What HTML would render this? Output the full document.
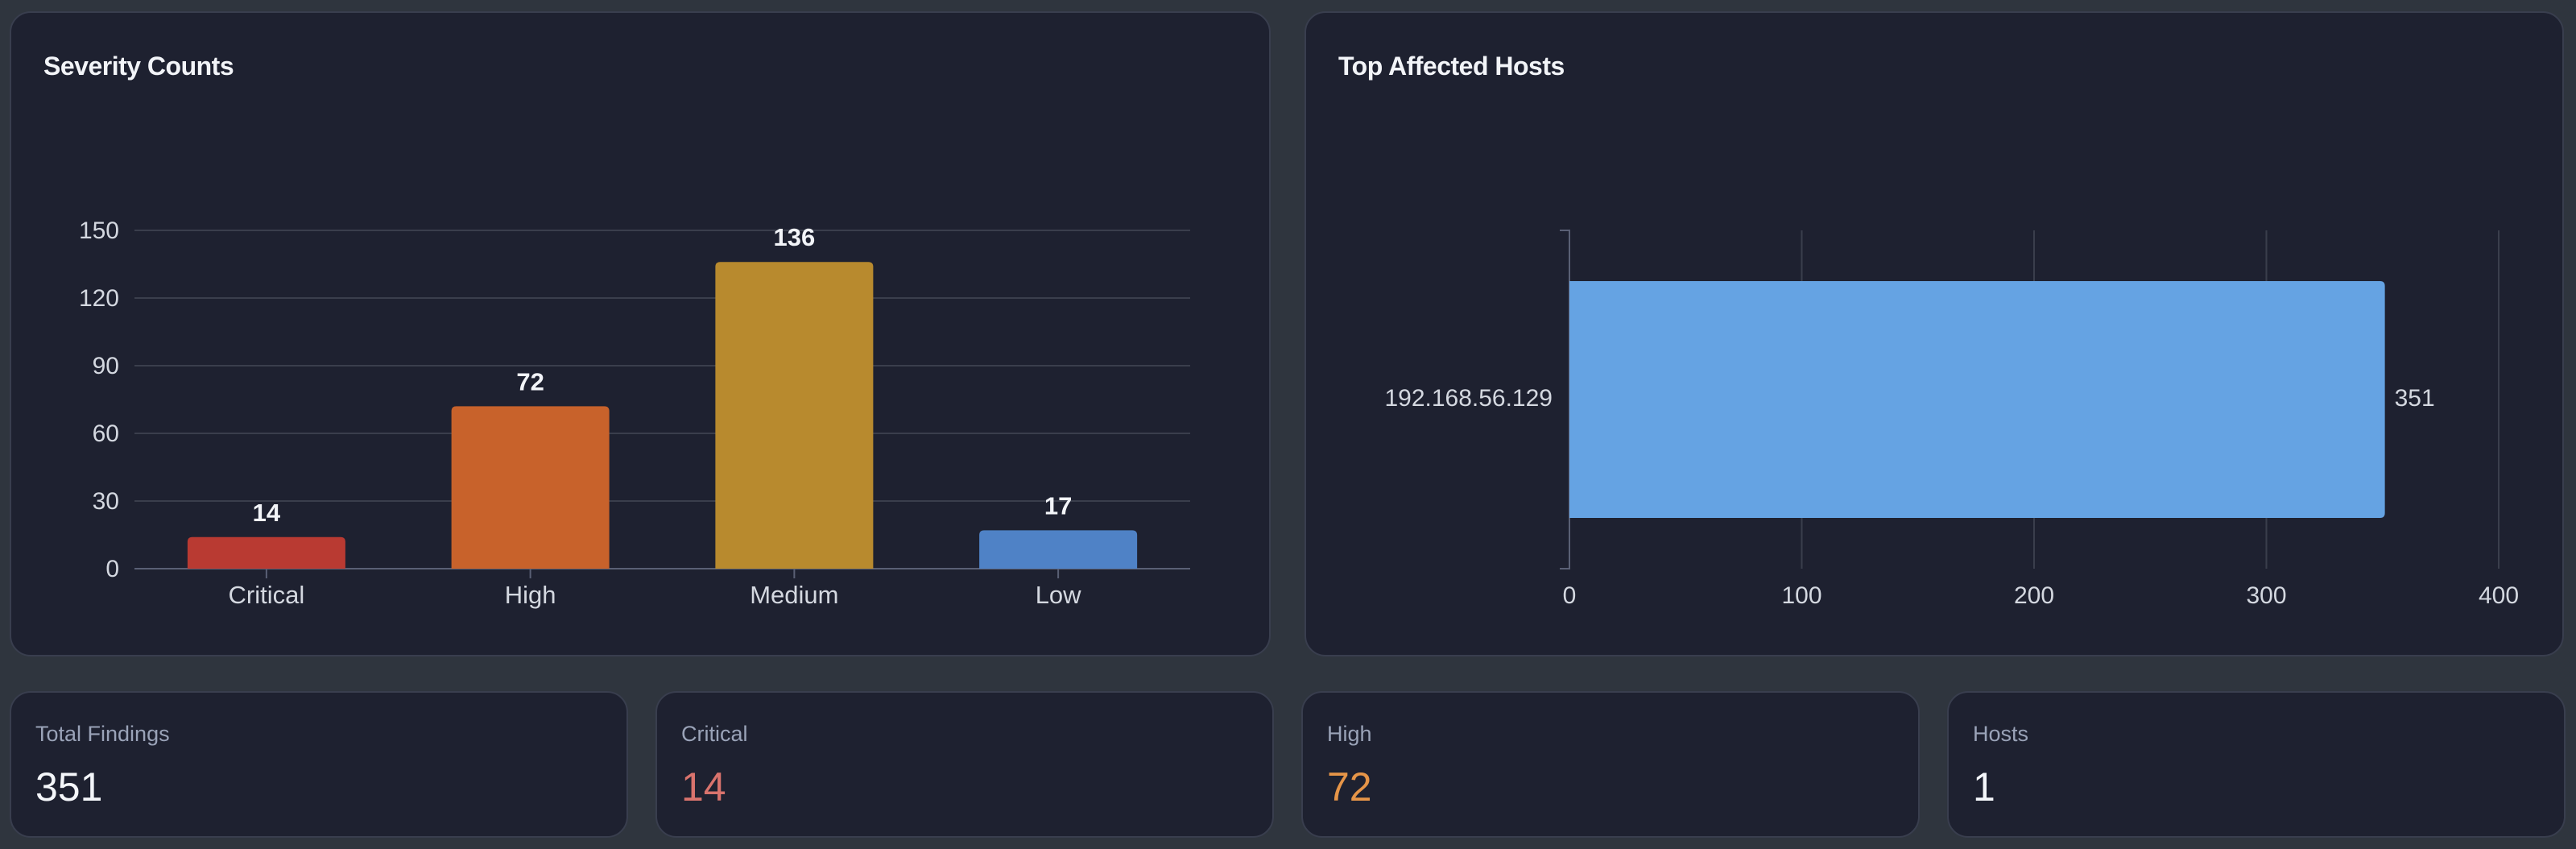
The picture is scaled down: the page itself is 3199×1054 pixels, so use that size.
<!DOCTYPE html>
<html><head><meta charset="utf-8"><style>
body{margin:0;width:3199px;height:1054px;background:#2f353e;font-family:"Liberation Sans",sans-serif;overflow:hidden;position:relative}
.card{position:absolute;background:#1e2130;border:2px solid #393e4e;box-sizing:border-box;border-radius:26px}
.title{position:absolute;left:40px;top:48px;font-size:32px;color:#f2f4f8;font-weight:bold;letter-spacing:-0.5px}
.lbl{position:absolute;left:30px;top:36px;font-size:27px;color:#9aa3b8}
.val{position:absolute;left:30px;top:88px;font-size:50px;color:#f4f6fa}
svg{position:absolute;left:0;top:0}
svg text{font-family:"Liberation Sans",sans-serif}
</style></head><body>
<div class="card" style="left:12px;top:14px;width:1566px;height:801px"><div class="title" style="left:40px">Severity Counts</div></div>
<div class="card" style="left:1620px;top:14px;width:1564px;height:801px"><div class="title">Top Affected Hosts</div></div>
<svg width="3199" height="1054" id="charts"></svg>
<div class="card" style="left:12px;top:858px;width:768px;height:182px"><div class="lbl">Total Findings</div><div class="val">351</div></div>
<div class="card" style="left:814px;top:858px;width:768px;height:182px"><div class="lbl">Critical</div><div class="val" style="color:#d9736d">14</div></div>
<div class="card" style="left:1616px;top:858px;width:768px;height:182px"><div class="lbl">High</div><div class="val" style="color:#e69548">72</div></div>
<div class="card" style="left:2418px;top:858px;width:768px;height:182px"><div class="lbl">Hosts</div><div class="val">1</div></div>
<script>
const sevCategories=["Critical","High","Medium","Low"];
const sevValues=[14,72,136,17];
const sevColors=["#b93a32","#c8622b","#b88a2e","#4f82c6"];
const sevTicks=[0,30,60,90,120,150];
const hostNames=["192.168.56.129"];
const hostValues=[351];
const hostTicks=[0,100,200,300,400];
const svg=document.getElementById('charts');
const NS='http://www.w3.org/2000/svg';
function mk(t,a,txt){const e=document.createElementNS(NS,t);for(const k in a)e.setAttribute(k,a[k]);if(txt!==undefined)e.textContent=txt;svg.appendChild(e);return e;}
// severity
const X0=167,X1=1478,Y0=706,Y1=286;
const yS=v=>Y0-(v/150)*(Y0-Y1);
const band=(X1-X0)/sevCategories.length;
sevTicks.forEach(t=>{
 const g=mk('line',{x1:X0,x2:X1,y1:yS(t),y2:yS(t),stroke:t===0?'#5a6075':'#3a3e4c','stroke-width':2});
 
 
 const l=mk('text',{x:148,y:yS(t)+10,'text-anchor':'end','font-size':30,fill:'#d4d8e0'},t);
 
 
});
sevCategories.forEach((c,i)=>{
 const cx=X0+band*(i+0.5),w=196,v=sevValues[i];
 const b=mk('path',{d:`M${cx-w/2},${Y0} V${yS(v)+6} Q${cx-w/2},${yS(v)} ${cx-w/2+6},${yS(v)} H${cx+w/2-6} Q${cx+w/2},${yS(v)} ${cx+w/2},${yS(v)+6} V${Y0} Z`,fill:sevColors[i]});
 
 
 const vl=mk('text',{x:cx,y:yS(v)-20,'text-anchor':'middle','font-size':31,'font-weight':'bold',fill:'#f2f4f8'},v);
 
 
 mk('line',{x1:cx,x2:cx,y1:Y0,y2:Y0+12,stroke:'#5a6075','stroke-width':2});
 const xl=mk('text',{x:cx,y:749,'text-anchor':'middle','font-size':31,fill:'#d4d8e0'},c);
 
 
});
// hosts
const H0=1949,H1=3103,HT=286,HB=706;
const xS=v=>H0+(v/400)*(H1-H0);
hostTicks.forEach(t=>{
 if(t>0){const g=mk('line',{x1:xS(t),x2:xS(t),y1:HT,y2:HB,stroke:'#3a3e4c','stroke-width':2});
 
 }
 const l=mk('text',{x:xS(t),y:749,'text-anchor':'middle','font-size':30,fill:'#d4d8e0'},t);
 
 
});
mk('path',{d:`M${H0-12},${HT} H${H0} V${HB} H${H0-12}`,fill:'none',stroke:'#5a6075','stroke-width':2});
const hb=(HB-HT)/hostNames.length;
hostNames.forEach((h,i)=>{
 const top=HT+hb*i+hb*0.15,ht=hb*0.7,x2=xS(hostValues[i]);
 const b=mk('path',{d:`M${H0},${top} H${x2-6} Q${x2},${top} ${x2},${top+6} V${top+ht-6} Q${x2},${top+ht} ${x2-6},${top+ht} H${H0} Z`,fill:'#65a3e3'});
 
 
 const cy=top+ht/2+8;
 const n=mk('text',{x:1928,y:cy,'text-anchor':'end','font-size':30,fill:'#d4d8e0'},h);
 
 
 const v=mk('text',{x:x2+12,y:cy,'font-size':30,fill:'#d4d8e0'},hostValues[i]);
 
 
});
</script>
</body></html>
